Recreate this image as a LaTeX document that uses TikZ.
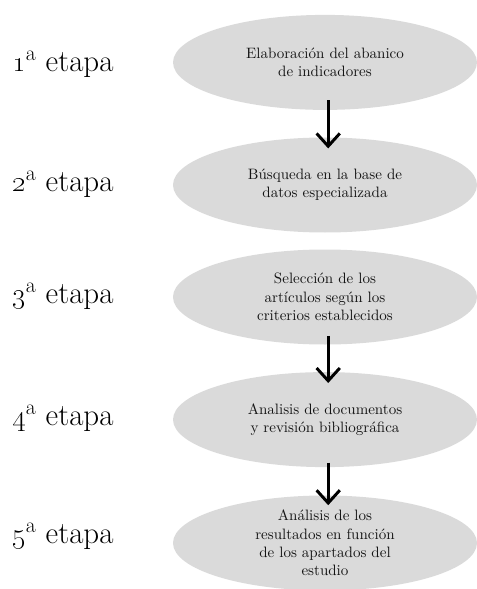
\documentclass[tikz,border=0pt]{standalone}
\usepackage{tikz}
\usetikzlibrary{shapes.geometric,arrows.meta}

\definecolor{gris}{RGB}{218,218,218}
\definecolor{texto}{RGB}{20,20,20}

\begin{document}
\begin{tikzpicture}[
    etapa/.style={anchor=west, inner sep=0pt, font=\fontsize{22}{26}\selectfont},
    paso/.style={ellipse, fill=gris, inner sep=0pt, minimum width=7.6cm,
                 minimum height=2.375cm, align=center, text=texto,
                 font=\fontsize{10.7}{13}\selectfont},
    flecha/.style={-{Straight Barb[length=3.2mm,width=5.8mm]}, line width=2.1pt}
  ]
    \useasboundingbox (0,0) rectangle (11.925,-14.725);
    % etapas
    \node [etapa] (t1) at (0.3,-1.6) {\oldstylenums{1}\textsuperscript{a} etapa};
    \node [etapa] (t2) at (0.3,-4.6) {\oldstylenums{2}\textsuperscript{a} etapa};
    \node [etapa] (t3) at (0.3,-7.4) {\oldstylenums{3}\textsuperscript{a} etapa};
    \node [etapa] (t4) at (0.3,-10.45) {\oldstylenums{4}\textsuperscript{a} etapa};
    \node [etapa] (t5) at (0.3,-13.4) {\oldstylenums{5}\textsuperscript{a} etapa};
    % elipses
    \node [paso] (e1) at (8.125,-1.56) {Elaboración del abanico\\de indicadores};
    \node [paso] (e2) at (8.125,-4.625) {Búsqueda en la base de\\datos especializada};
    \node [paso] (e3) at (8.125,-7.425) {Selección de los\\artículos según los\\criterios establecidos};
    \node [paso] (e4) at (8.125,-10.49) {Analisis de documentos\\y revisión bibliográfica};
    \node [paso] (e5) at (8.125,-13.575) {Análisis de los\\resultados en función\\de los apartados del\\estudio};
    % flechas
    \draw [flecha] ([xshift=0.8mm,yshift=2.5mm]e1.south) -- ([xshift=0.8mm,yshift=-2.8mm]e2.north);
    \draw [flecha] ([xshift=0.8mm,yshift=2.2mm]e3.south) -- ([xshift=0.8mm,yshift=-2.8mm]e4.north);
    \draw [flecha] ([xshift=0.8mm,yshift=1.2mm]e4.south) -- ([xshift=0.8mm,yshift=-2.5mm]e5.north);
\end{tikzpicture}
\end{document}
